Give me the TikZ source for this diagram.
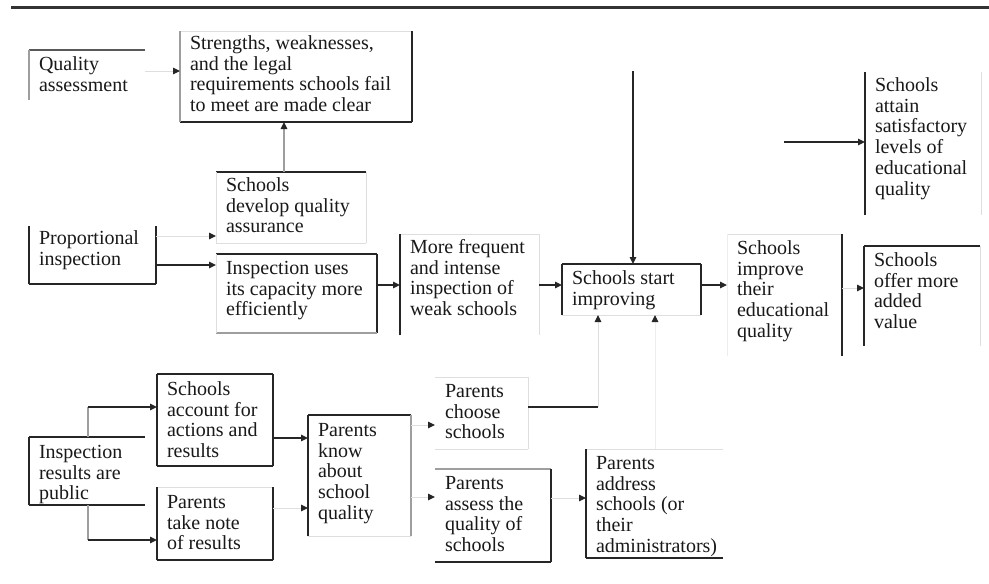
\documentclass[tikz,border=0pt]{standalone}
\usepackage{fontspec}
\setmainfont{Liberation Serif}
\usetikzlibrary{arrows.meta}
\tikzset{
  boxn/.style={rectangle, inner sep=0pt, outer sep=0pt, draw=none, anchor=north west},
  txt/.style={inner sep=0pt, outer sep=0pt, anchor=north west, align=left, text=black!90,
    font=\fontsize{20}{20.7}\selectfont},
  dk/.style={line width=1.5pt, draw=black!85},
  dg/.style={line width=1.3pt, draw=black!65},
  md/.style={line width=1.1pt, draw=black!38},
  lt/.style={line width=1pt, draw=black!13},
  vl/.style={line width=1pt, draw=black!7},
  nn/.style={draw=none},
  arr/.style={-{Triangle[length=7pt,width=6.5pt,color=black!85]}},
}
\newcommand\bx[7]{%
  \node[boxn, minimum width={#4pt-#2pt}, minimum height={#5pt-#3pt}] (#1) at (#2,#3) {};
  \node[txt] (#1t) at ([xshift=10pt]#1.north west) {\rule{0pt}{#6pt}#7};
}
\newcommand\sd[5]{%
  \draw[#2] (#1.north west) -- (#1.north east);
  \draw[#3] (#1.north east) -- (#1.south east);
  \draw[#4] (#1.south east) -- (#1.south west);
  \draw[#5] (#1.south west) -- (#1.north west);
}
\begin{document}
\begin{tikzpicture}[x=1pt,y=-1pt]
\fill[white] (0,0) rectangle (989,584);
\useasboundingbox (0,0) rectangle (989,584);
\draw[line width=3pt, draw=black!80] (11,7.5) -- (989,7.5);

% boxes
\bx{qa}{29}{50}{145}{100}{20.5}{Quality\\assessment}
\bx{st}{180}{31}{412}{122}{18.5}{Strengths, weaknesses,\\and the legal\\requirements schools fail\\to meet are made clear}
\bx{dq}{216}{172}{366}{243}{19.5}{Schools\\develop quality\\assurance}
\bx{pi}{29}{226}{156}{284}{18.5}{Proportional\\inspection}
\bx{iu}{216}{254}{377}{333}{20.5}{Inspection uses\\its capacity more\\efficiently}
\bx{mf}{400}{234}{539}{335}{19.5}{More frequent\\and intense\\inspection of\\weak schools}
\bx{si}{562}{264}{701}{315}{20.5}{Schools start\\improving}
\bx{ie}{727}{234}{842}{356}{20.5}{Schools\\improve\\their\\educational\\quality}
\bx{sa}{865}{72}{981}{215}{19.5}{Schools\\attain\\satisfactory\\levels of\\educational\\quality}
\bx{om}{864}{246}{980}{346}{20.5}{Schools\\offer more\\added\\value}
\bx{ir}{29}{437}{145}{505}{21.5}{Inspection\\results are\\public}
\bx{sc}{157}{374}{273}{466}{21.5}{Schools\\account for\\actions and\\results}
\bx{pt}{157}{487}{273}{560}{21.5}{Parents\\take note\\of results}
\bx{pk}{308}{415}{411}{536}{21.5}{Parents\\know\\about\\school\\quality}
\bx{pc}{435}{377}{528}{449}{20.5}{Parents\\choose\\schools}
\bx{ps}{435}{469}{551}{562}{20.5}{Parents\\assess the\\quality of\\schools}
\bx{pa}{586}{449}{723}{558}{20.5}{Parents\\address\\schools (or\\their\\administrators)}

% box sides: top, right, bottom, left
\sd{qa}{dg}{nn}{nn}{md}
\sd{st}{lt}{dk}{dk}{md}
\sd{dq}{dk}{lt}{lt}{lt}
\sd{pi}{nn}{dk}{dk}{dk}
\sd{iu}{dk}{dk}{md}{lt}
\sd{mf}{lt}{lt}{nn}{dk}
\sd{si}{dk}{dk}{lt}{dk}
\sd{ie}{lt}{dk}{nn}{vl}
\sd{sa}{nn}{lt}{nn}{dk}
\sd{om}{dk}{lt}{nn}{dk}
\sd{ir}{dk}{nn}{dk}{dk}
\sd{sc}{dk}{dk}{dk}{dk}
\sd{pt}{lt}{dk}{dk}{dk}
\sd{pk}{dk}{md}{lt}{dk}
\sd{pc}{lt}{lt}{lt}{nn}
\sd{ps}{md}{dk}{dk}{nn}
\sd{pa}{lt}{nn}{dk}{dk}

% connectors
\draw[lt,arr] (qa.east |- 0,71) -- (st.west |- 0,71);
\draw[md,arr] (dq.north -| 284,0) -- (st.south -| 284,0);
\draw[lt,arr] (pi.east |- 0,236) -- (dq.west |- 0,236);
\draw[dk,arr] (pi.east |- 0,265) -- (iu.west |- 0,265);
\draw[dk,arr] (iu.east |- 0,285) -- (mf.west |- 0,285);
\draw[dk,arr] (mf.east |- 0,285) -- (si.west |- 0,285);
\coordinate (vtop) at (633,71);
\draw[dk,arr] (vtop) -- (si.north -| vtop);
\draw[dk,arr] (si.east |- 0,285) -- (ie.west |- 0,285);
\draw[lt,arr] (ie.east |- 0,288) -- (om.west |- 0,288);
\coordinate (atin) at (784,142);
\draw[dk,arr] (atin) -- (sa.west |- atin);
\coordinate (cj) at (598,407);
\draw[dk] (pc.east |- cj) -- (cj);
\draw[lt,arr] (cj) -- (si.south -| cj);
\draw[vl,arr] (pa.north -| 655,0) -- (si.south -| 655,0);
\coordinate (ra) at (88,407);
\coordinate (rb) at (88,540);
\draw[md] (ir.north -| ra) -- (ra);
\draw[dk,arr] (ra) -- (sc.west |- ra);
\draw[md] (ir.south -| rb) -- (rb);
\draw[dk,arr] (rb) -- (pt.west |- rb);
\draw[dk,arr] (sc.east |- 0,438) -- (pk.west |- 0,438);
\draw[lt,arr] (pt.east |- 0,508) -- (pk.west |- 0,508);
\draw[lt,arr] (pk.east |- 0,425) -- (pc.west |- 0,425);
\draw[lt,arr] (pk.east |- 0,497) -- (ps.west |- 0,497);
\draw[lt,arr] (ps.east |- 0,498) -- (pa.west |- 0,498);
\end{tikzpicture}
\end{document}
